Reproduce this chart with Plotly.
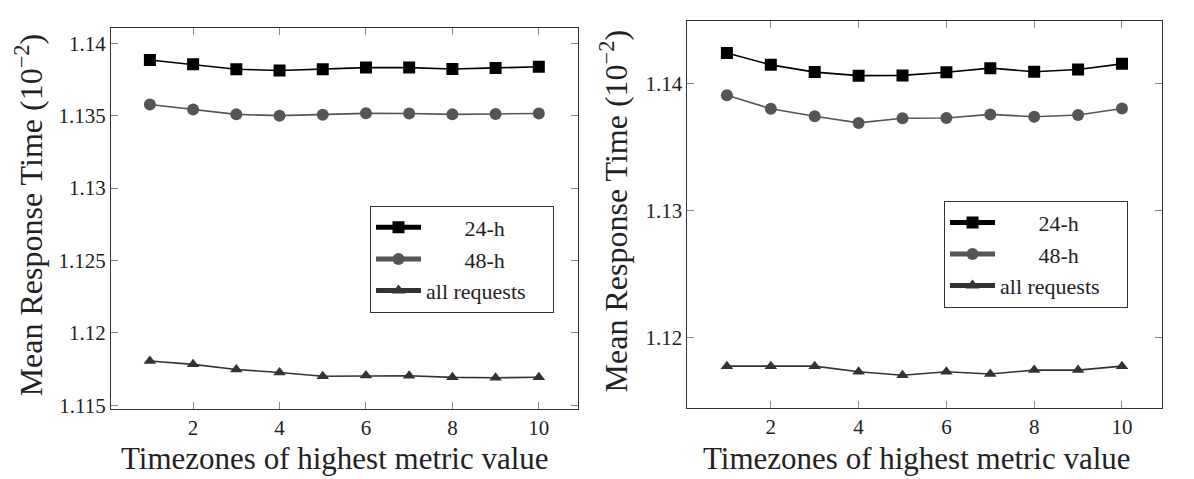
import plotly.graph_objects as go

# ---------------- data ----------------
x_vals = [1, 2, 3, 4, 5, 6, 7, 8, 9, 10]

left_24h = [1.13885, 1.13855, 1.13821, 1.13812, 1.13821, 1.13832, 1.13832, 1.13822, 1.13830, 1.13838]
left_48h = [1.13577, 1.13543, 1.13509, 1.13500, 1.13506, 1.13516, 1.13515, 1.13509, 1.13512, 1.13515]
left_all = [1.11805, 1.11782, 1.11746, 1.11726, 1.11700, 1.11704, 1.11703, 1.11692, 1.11689, 1.11693]

right_24h = [1.14240, 1.14147, 1.14090, 1.14062, 1.14064, 1.14089, 1.14121, 1.14093, 1.14111, 1.14155]
right_48h = [1.13907, 1.13801, 1.13742, 1.13690, 1.13727, 1.13729, 1.13757, 1.13739, 1.13752, 1.13803]
right_all = [1.11775, 1.11775, 1.11775, 1.11731, 1.11703, 1.11731, 1.11713, 1.11744, 1.11744, 1.11775]

series_names = ["24-h", "48-h", "all requests"]

x_tickvals = [2, 4, 6, 8, 10]
x_ticktext = ["2", "4", "6", "8", "10"]
left_y_tickvals = [1.115, 1.12, 1.125, 1.13, 1.135, 1.14]
left_y_ticktext = ["1.115", "1.12", "1.125", "1.13", "1.135", "1.14"]
right_y_tickvals = [1.12, 1.13, 1.14]
right_y_ticktext = ["1.12", "1.13", "1.14"]

x_title = "Timezones of highest metric value"
y_title = "Mean Response Time (10<sup>\u22122</sup>)"

# ---------------- style ----------------
FONT = "Liberation Serif, Times New Roman, serif"
W, H = 1194, 479
styles = [
    dict(color="#000000", symbol="square", size=12),
    dict(color="#555555", symbol="circle", size=12),
    dict(color="#333333", symbol="triangle-up", size=11),
]
NB = "\u00a0"
pre = [NB * 7, NB * 7, ""]
post = ["", "", NB * 4]

fig = go.Figure()

panels = [
    (left_24h, left_48h, left_all, "x", "y", "legend"),
    (right_24h, right_48h, right_all, "x2", "y2", "legend2"),
]
for (s1, s2, s3, xa, ya, lg) in panels:
    for vals, name, st, a, b in zip([s1, s2, s3], series_names, styles, pre, post):
        fig.add_trace(go.Scatter(
            x=x_vals, y=vals, name=a + name + b, mode="lines+markers",
            xaxis=xa, yaxis=ya, legend=lg,
            line=dict(color=st["color"], width=1.6),
            marker=dict(color=st["color"], symbol=st["symbol"], size=st["size"], line=dict(width=0)),
        ))

def px_x(p):
    return p / W

def px_y(p):
    return 1 - p / H

axis_common = dict(
    showline=True, linecolor="#333333", linewidth=1, mirror="ticks",
    ticks="inside", ticklen=7, tickcolor="#888888", tickwidth=1,
    showgrid=False, zeroline=False,
    tickfont=dict(family=FONT, size=21, color="#222222"),
)
xaxis_extra = dict(ticklabelstandoff=0)

legend_common = dict(
    xanchor="right", yanchor="top",
    bgcolor="white", bordercolor="#333333", borderwidth=1,
    font=dict(family=FONT, size=22, color="#222222"),
    tracegroupgap=0, itemsizing="constant", itemwidth=45,
)

fig.update_layout(
    width=W, height=H,
    margin=dict(l=0, r=0, t=0, b=0),
    paper_bgcolor="white", plot_bgcolor="white",
    font=dict(family=FONT, color="#222222"),
    xaxis=dict(domain=[px_x(111), px_x(577.7)], range=[0.1, 10.9],
               tickvals=x_tickvals, ticktext=x_ticktext, anchor="y", **axis_common, **xaxis_extra),
    yaxis=dict(domain=[px_y(416), px_y(28)], range=[1.11473, 1.14109],
               tickvals=left_y_tickvals, ticktext=left_y_ticktext, anchor="x", **axis_common),
    xaxis2=dict(domain=[px_x(687.4), px_x(1161.5)], range=[0.1, 10.9],
                tickvals=x_tickvals, ticktext=x_ticktext, anchor="y2", **axis_common, **xaxis_extra),
    yaxis2=dict(domain=[px_y(415), px_y(21)], range=[1.11445, 1.14495],
                tickvals=right_y_tickvals, ticktext=right_y_ticktext, anchor="x2", **axis_common),
    legend=dict(x=px_x(554), y=px_y(209), **legend_common),
    legend2=dict(x=px_x(1128), y=px_y(204), **legend_common),
    showlegend=True,
)

title_font = dict(family=FONT, size=31, color="#222222")
annots = [
    dict(text=x_title, x=px_x(335), y=px_y(466), xref="paper", yref="paper",
         xanchor="center", yanchor="middle", showarrow=False, font=title_font),
    dict(text=x_title, x=px_x(917), y=px_y(466), xref="paper", yref="paper",
         xanchor="center", yanchor="middle", showarrow=False, font=title_font),
    dict(text=y_title, x=px_x(29), y=px_y(219), xref="paper", yref="paper", textangle=-90,
         xanchor="center", yanchor="middle", showarrow=False, font=dict(family=FONT, size=32, color="#222222")),
    dict(text=y_title, x=px_x(614), y=px_y(215), xref="paper", yref="paper", textangle=-90,
         xanchor="center", yanchor="middle", showarrow=False, font=dict(family=FONT, size=32, color="#222222")),
]
fig.update_layout(annotations=annots)

fig.write_html("out.html")
